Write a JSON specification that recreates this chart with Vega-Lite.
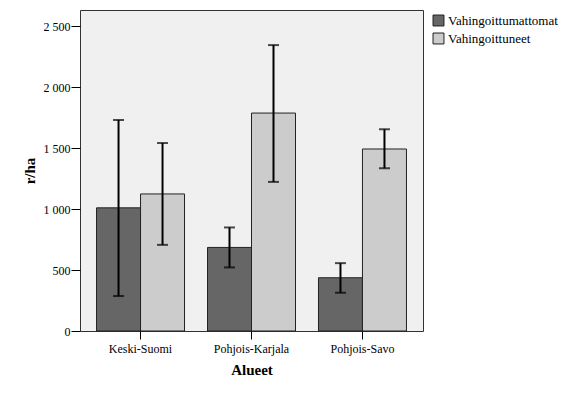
{
  "$schema": "https://vega.github.io/schema/vega-lite/v6.json",
  "width": 343,
  "height": 321,
  "autosize": "none",
  "padding": {"left": 80, "top": 10, "right": 142, "bottom": 65},
  "background": "white",
  "config": {
    "font": "Liberation Serif",
    "view": {"fill": "#f0f0f0", "stroke": "#333333", "strokeWidth": 1}
  },
  "data": {
    "values": [
      {"Alue": "Keski-Suomi", "Ryhma": "Vahingoittumattomat", "mean": 1011, "lo": 287, "hi": 1732},
      {"Alue": "Keski-Suomi", "Ryhma": "Vahingoittuneet", "mean": 1125, "lo": 707, "hi": 1543},
      {"Alue": "Pohjois-Karjala", "Ryhma": "Vahingoittumattomat", "mean": 686, "lo": 522, "hi": 850},
      {"Alue": "Pohjois-Karjala", "Ryhma": "Vahingoittuneet", "mean": 1789, "lo": 1224, "hi": 2347},
      {"Alue": "Pohjois-Savo", "Ryhma": "Vahingoittumattomat", "mean": 437, "lo": 314, "hi": 557},
      {"Alue": "Pohjois-Savo", "Ryhma": "Vahingoittuneet", "mean": 1494, "lo": 1336, "hi": 1656}
    ]
  },
  "encoding": {
    "x": {
      "field": "Alue", "type": "nominal",
      "scale": {"paddingInner": 0.207, "paddingOuter": 0.149},
      "axis": {
        "title": "Alueet", "titleFontSize": 15, "titleFontWeight": "bold", "titleColor": "black", "titlePadding": 8,
        "labelAngle": 0, "labelFontSize": 12, "labelColor": "black", "labelPadding": 4,
        "tickSize": 8, "tickColor": "black", "domain": false, "grid": false
      }
    },
    "xOffset": {"field": "Ryhma", "type": "nominal", "scale": {"paddingInner": 0, "paddingOuter": 0}}
  },
  "layer": [
    {
      "mark": {"type": "bar", "stroke": "#222222", "strokeWidth": 1},
      "encoding": {
        "y": {
          "field": "mean", "type": "quantitative",
          "scale": {"domain": [0, 2635], "nice": false},
          "axis": {
            "title": "r/ha", "titleFontSize": 15, "titleFontWeight": "bold", "titleColor": "black", "titlePadding": 6,
            "values": [0, 500, 1000, 1500, 2000, 2500],
            "labelExpr": "replace(format(datum.value, ','), ',', ' ')",
            "labelFontSize": 12, "labelColor": "black", "labelPadding": 1,
            "tickSize": 9, "tickColor": "black", "domain": false, "grid": false
          }
        },
        "fill": {
          "field": "Ryhma", "type": "nominal",
          "scale": {"domain": ["Vahingoittumattomat", "Vahingoittuneet"], "range": ["#666666", "#cccccc"]},
          "legend": {
            "title": null, "orient": "none", "legendX": 352, "legendY": 4,
            "symbolType": "square", "symbolSize": 120, "symbolStrokeColor": "#222222", "symbolStrokeWidth": 1,
            "labelFontSize": 13, "labelColor": "black", "labelOffset": 3, "rowPadding": 3,
            "padding": 0
          }
        }
      }
    },
    {
      "mark": {"type": "rule", "color": "black", "strokeWidth": 2},
      "encoding": {
        "y": {"field": "lo", "type": "quantitative"},
        "y2": {"field": "hi"}
      }
    },
    {
      "mark": {"type": "tick", "color": "black", "thickness": 2, "size": 11, "orient": "horizontal"},
      "encoding": {"y": {"field": "hi", "type": "quantitative"}}
    },
    {
      "mark": {"type": "tick", "color": "black", "thickness": 2, "size": 11, "orient": "horizontal"},
      "encoding": {"y": {"field": "lo", "type": "quantitative"}}
    }
  ]
}
